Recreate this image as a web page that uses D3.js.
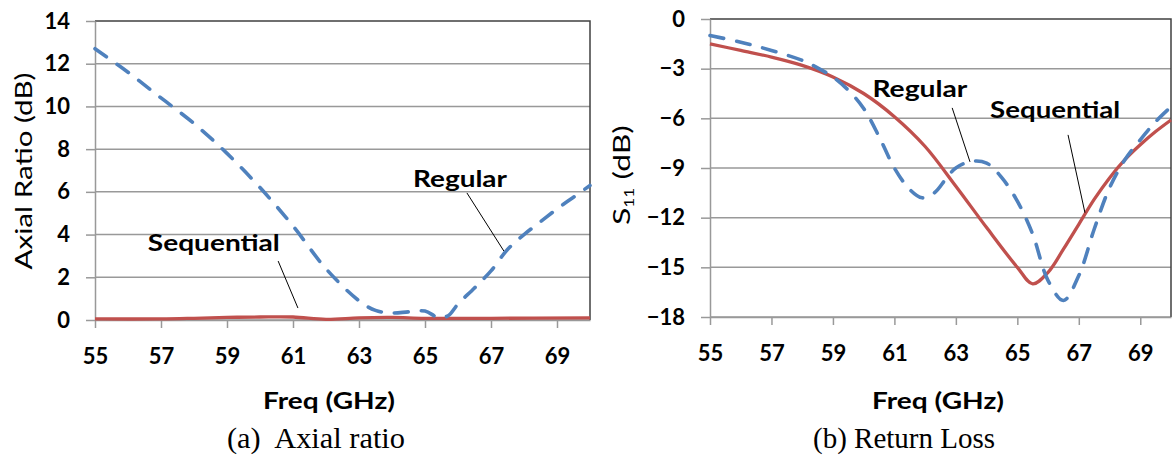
<!DOCTYPE html>
<html>
<head>
<meta charset="utf-8">
<script src="https://cdn.jsdelivr.net/npm/d3@7"></script>
<style>
  body { margin: 0; background: #fff; }
  svg  { display: block; }
  .tick text { font-family: Lato, sans-serif; font-weight: bold; font-size: 22px; fill: #000; }
  .axis path, .axis line { stroke: #999; stroke-width: 1.5px; }
  .grid line { stroke: #999; stroke-width: 1.5px; }
  .frame { stroke: #404040; stroke-width: 1.5px; fill: none; }
  .lbl   { font-family: Lato, sans-serif; font-weight: bold; fill: #000; }
  .ytitle { font-family: Lato, sans-serif; fill: #000; }
  .caption { font-family: "Liberation Serif", "Times New Roman", serif; fill: #000; }
  .leader { stroke: #000; stroke-width: 1px; }
</style>
</head>
<body>
<script>
// ---- Data ----
// (a) Axial ratio
var arRegularFreq = [55, 56, 57, 58, 59, 60, 61, 62, 63, 63.5, 64, 64.5, 65, 65.4, 65.7, 66, 66.5, 67, 67.5, 68, 68.5, 69, 69.5, 70]
var arRegular     = [12.7, 11.6, 10.4, 9.2, 7.8, 6.2, 4.4, 2.4, 0.9, 0.45, 0.33, 0.38, 0.42, 0.12, 0.2, 0.75, 1.5, 2.3, 3.3, 4.0, 4.6, 5.2, 5.75, 6.3]
var arSeqFreq     = [55, 57, 58, 59, 60, 61, 62, 63, 64, 65, 67, 70]
var arSequential  = [0.05, 0.05, 0.08, 0.12, 0.14, 0.14, 0.03, 0.1, 0.12, 0.08, 0.08, 0.1]

// (b) Return loss
var rlRegularFreq = [55, 56, 57, 58, 58.5, 59, 59.5, 60, 60.5, 61, 61.5, 61.9, 62.3, 62.7, 63, 63.5, 64, 64.5, 65, 65.5, 66, 66.5, 67, 67.5, 68, 68.5, 69, 69.5, 70]
var rlRegular     = [-1.0, -1.4, -1.9, -2.5, -2.95, -3.5, -4.3, -5.4, -7.1, -9.0, -10.3, -10.8, -10.5, -9.6, -9.0, -8.6, -8.7, -9.6, -11.0, -13.0, -15.8, -17.0, -15.5, -12.7, -10.2, -8.5, -7.3, -6.2, -5.3]
var rlSeqFreq     = [55, 56, 57, 58, 59, 60, 61, 62, 63, 64, 65, 65.5, 66, 66.5, 67, 67.5, 68, 68.5, 69, 69.5, 70]
var rlSequential  = [-1.5, -1.9, -2.3, -2.8, -3.5, -4.5, -5.9, -7.7, -10.1, -12.6, -15.0, -16.0, -15.3, -13.9, -12.4, -10.9, -9.6, -8.5, -7.6, -6.8, -6.1]

// Axis ticks
var freqTicks = [55, 57, 59, 61, 63, 65, 67, 69]
var arTicks   = [0, 2, 4, 6, 8, 10, 12, 14]
var rlTicks   = [-18, -15, -12, -9, -6, -3, 0]

var zip = function (xs, ys) { return xs.map(function (x, i) { return { f : x, v : ys[i] } }) }

var svg = d3.select("body").append("svg")
            .attr("width", 1173)
            .attr("height", 459)

// Draws one panel; annotation anchors are given in data units
var drawPanel = function (o) {
  var g = svg.append("g")
  var x = d3.scaleLinear().domain([55, 70]).range(o.xRange),
      y = d3.scaleLinear().domain(o.yDomain).range(o.yRange)

  // Horizontal grid (top one is the frame)
  g.append("g").attr("class", "grid")
   .selectAll("line")
   .data(o.yTicks.slice(0, -1))
   .enter().append("line")
     .attr("x1", o.xRange[0]).attr("x2", o.xRange[1])
     .attr("y1", function (d) { return y(d) })
     .attr("y2", function (d) { return y(d) })

  // Frame: top and right edges are dark
  g.append("path").attr("class", "frame")
   .attr("d", "M" + o.xRange[0] + "," + o.yRange[1] + "H" + o.xRange[1] + "V" + o.yRange[0])

  // Axes
  g.append("g").attr("class", "axis")
   .attr("transform", "translate(0," + o.yRange[0] + ")")
   .call(d3.axisBottom(x).tickValues(freqTicks).tickSize(8).tickPadding(20).tickSizeOuter(0))
  g.append("g").attr("class", "axis")
   .attr("transform", "translate(" + o.xRange[0] + ",0)")
   .call(d3.axisLeft(y).tickValues(o.yTicks).tickSize(9).tickPadding(16).tickSizeOuter(0))

  // Lines
  var line = d3.line()
               .x(function (d) { return x(d.f) })
               .y(function (d) { return y(d.v) })
               .curve(d3.curveCatmullRom.alpha(0.5))
  g.append("path")
   .datum(zip(o.seqF, o.seq))
   .attr("d", line)
   .attr("fill", "none")
   .attr("stroke", "#C0504D")
   .attr("stroke-width", 3.3)
  g.append("path")
   .datum(zip(o.regF, o.reg))
   .attr("d", line)
   .attr("fill", "none")
   .attr("stroke", "#4F81BD")
   .attr("stroke-width", 3.6)
   .attr("stroke-linecap", "round")
   .attr("stroke-dasharray", "14,13")

  // Series labels with leader lines
  o.labels.forEach(function (l) {
    g.append("line").attr("class", "leader")
     .attr("x1", x(l.line[0])).attr("y1", y(l.line[1]))
     .attr("x2", x(l.line[2])).attr("y2", y(l.line[3]))
    g.append("text").attr("class", "lbl")
     .attr("x", x(l.at[0])).attr("y", y(l.at[1]))
     .attr("text-anchor", "middle")
     .attr("font-size", 23)
     .attr("textLength", l.w).attr("lengthAdjust", "spacingAndGlyphs")
     .text(l.text)
  })

  // X title
  g.append("text").attr("class", "lbl")
   .attr("x", o.xTitleX).attr("y", 409)
   .attr("text-anchor", "middle")
   .attr("font-size", 22)
   .attr("textLength", 132).attr("lengthAdjust", "spacingAndGlyphs")
   .text("Freq (GHz)")

  // Caption
  g.append("text").attr("class", "caption")
   .attr("x", o.capX).attr("y", 448)
   .attr("font-size", 30)
   .attr("textLength", o.capW).attr("lengthAdjust", "spacingAndGlyphs")
   .text(o.caption)

  return g
}

var ga = drawPanel({
  xRange  : [95, 590],
  yDomain : [0, 14], yRange : [320, 21], yTicks : arTicks,
  regF : arRegularFreq, reg : arRegular,
  seqF : arSeqFreq,     seq : arSequential,
  labels : [
    { text : "Regular",    at : [66.06, 6.23], w : 94,  line : [66.27, 5.95, 67.39, 3.23] },
    { text : "Sequential", at : [58.6, 3.23],  w : 132, line : [60.55, 2.76, 61.15, 0.56] }
  ],
  xTitleX : 329,
  capX : 227, capW : 178, caption : "(a)\u00a0 Axial ratio"
})

var gb = drawPanel({
  xRange  : [710, 1171],
  yDomain : [-18, 0], yRange : [317, 19], yTicks : rlTicks,
  regF : rlRegularFreq, reg : rlRegular,
  seqF : rlSeqFreq,     seq : rlSequential,
  labels : [
    { text : "Regular",    at : [61.83, -4.71], w : 95,  line : [62.88, -5.37, 63.46, -8.63] },
    { text : "Sequential", at : [66.23, -5.98], w : 130, line : [66.65, -7.0, 67.2, -11.7] }
  ],
  xTitleX : 938,
  capX : 813, capW : 182, caption : "(b) Return Loss"
})

// Y titles (rotated)
ga.append("text").attr("class", "ytitle")
  .attr("transform", "translate(32,171) rotate(-90)")
  .attr("text-anchor", "middle")
  .attr("font-size", 24)
  .attr("textLength", 197).attr("lengthAdjust", "spacingAndGlyphs")
  .text("Axial Ratio (dB)")

var st = gb.append("g").attr("transform", "translate(630,175) rotate(-90)")
           .append("text").attr("class", "ytitle")
           .attr("font-size", 24)
st.append("tspan").text("S")
st.append("tspan").attr("font-size", 13).attr("dy", 4).text("11")
st.append("tspan").attr("dy", -4).text(" (dB)")
// Stretch along its length to match the figure
var k = 100 / st.node().getComputedTextLength()
st.attr("transform", "scale(" + k + ",1) translate(" + (-st.node().getComputedTextLength() / 2) + ",0)")
</script>
</body>
</html>
